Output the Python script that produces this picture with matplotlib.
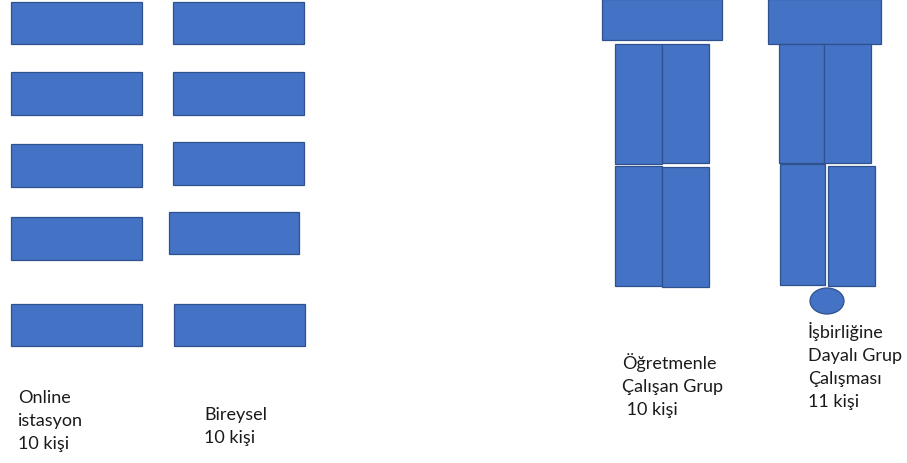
import matplotlib.pyplot as plt
from matplotlib.patches import Rectangle, Ellipse

# Sınıf düzeni: masalar (x, y, genişlik, yükseklik) piksel cinsinden
online_desks = [(10.5, 2, 131, 42), (10.5, 71.5, 131, 43), (10.5, 144, 131, 42.5),
                (10.5, 217, 131, 43), (10.5, 303.5, 131, 42.5)]
bireysel_desks = [(172.5, 2, 131, 42), (172.5, 71.5, 131, 43), (172.5, 142, 131, 42.5),
                  (168.5, 211.5, 130.5, 42), (173.5, 303.5, 131, 42.5)]
ogretmen_desks = [(602, -1, 120, 41), (615, 43.5, 47, 120), (662, 43.5, 47, 119),
                  (615, 165.5, 47, 120), (662, 166.5, 47, 120)]
isbirligi_desks = [(767.5, -1, 113, 45), (778.5, 44, 45.5, 118.5), (824, 44, 46.5, 118.5),
                   (779.5, 164, 45.5, 120.5), (828, 165.5, 47, 120)]
isbirligi_seat = (827, 301, 34, 26)

labels = ["Online\nistasyon\n10 kişi", "Bireysel\n10 kişi",
          "Öğretmenle\nÇalışan Grup\n 10 kişi", "İşbirliğine\nDayalı Grup\nÇalışması\n11 kişi"]
label_pos = [(18, 390), (204, 407), (622, 353), (808, 322)]

fill = "#4472C4"
edge = "#2F528F"

fig = plt.figure(figsize=(9.07, 4.63), dpi=100)
ax = fig.add_axes([0, 0, 1, 1])
ax.set_xlim(0, 907)
ax.set_ylim(463, 0)
ax.axis("off")

for group in [online_desks, bireysel_desks, ogretmen_desks, isbirligi_desks]:
    for (x, y, w, h) in group:
        ax.add_patch(Rectangle((x, y), w, h, facecolor=fill, edgecolor=edge, linewidth=0.9))

cx, cy, ew, eh = isbirligi_seat
ax.add_patch(Ellipse((cx, cy), ew, eh, facecolor=fill, edgecolor=edge, linewidth=0.9))

for txt, (x, y) in zip(labels, label_pos):
    ax.text(x, y, txt, fontsize=13, family=["Lato", "DejaVu Sans"], color="#1a1a1a",
            va="top", ha="left", linespacing=1.55)

fig.savefig("out.png", dpi=100)
